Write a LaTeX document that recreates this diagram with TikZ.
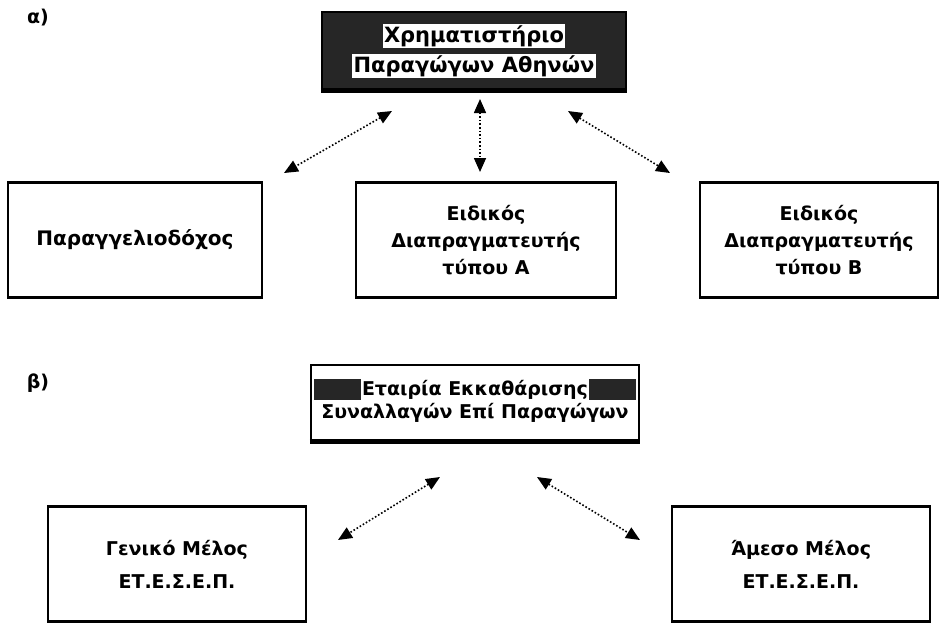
\documentclass[tikz,border=0pt]{standalone}
\usepackage{fontspec}
\setmainfont{DejaVu Sans}
\usetikzlibrary{arrows.meta}
\setlength{\fboxsep}{1.5pt}
\begin{document}
\begin{tikzpicture}[x=1pt,y=-1pt,
  font=\bfseries\fontsize{19}{27}\selectfont,
  plainbox/.style={draw=black,line width=2.2pt,minimum height=115pt,align=center,inner sep=0pt},
  headbox/.style={draw=black,line width=2.5pt,align=center,inner sep=0pt},
  shadowline/.style={line width=5pt},
  link/.style={line width=1.6pt,dotted,{Triangle[length=14pt,width=12pt]}-{Triangle[length=14pt,width=12pt]}}]
\useasboundingbox (0,0) rectangle (946,625);
% labels
\node (la) at (38,18) {α)};
\node (lb) at (38,383) {β)};
% top part
\node[headbox,fill=black!85,minimum width=304pt,minimum height=78pt,
  font=\bfseries\fontsize{21}{30}\selectfont] (xa) at (474,51)
  {\colorbox{white}{Χρηματιστήριο}\\\colorbox{white}{Παραγώγων Αθηνών}};
\draw[shadowline] ([yshift=1pt]xa.south west) -- ([yshift=1pt]xa.south east);
\node[plainbox,minimum width=254pt,font=\bfseries\fontsize{20}{27}\selectfont] (p1) at (135,240) {Παραγγελιοδόχος};
\node[plainbox,minimum width=260pt] (p2) at (486,240) {Ειδικός\\Διαπραγματευτής\\τύπου Α};
\node[plainbox,minimum width=238pt] (p3) at (819,240) {Ειδικός\\Διαπραγματευτής\\τύπου Β};
\coordinate (a1s) at (392,111);
\coordinate (a1e) at (284,173);
\coordinate (a2s) at (480,99);
\coordinate (a2e) at (480,172);
\coordinate (a3s) at (568,111);
\coordinate (a3e) at (670,173);
\draw[link] (a1s) -- (a1e);
\draw[link] (a2s) -- (a2e);
\draw[link] (a3s) -- (a3e);
% bottom part
\node[headbox,fill=white,minimum width=328pt,minimum height=76pt] (xb) at (475,403) {};
\fill[black!85] ([xshift=4pt]xb.west |- 0,379) rectangle ([xshift=-4pt]xb.east |- 0,400);
\node[font=\bfseries\fontsize{19}{22}\selectfont,align=center,inner sep=0pt] (tb) at (475,401)
  {\colorbox{white}{Εταιρία Εκκαθάρισης}\\\colorbox{white}{Συναλλαγών Επί Παραγώγων}};
\draw[shadowline] ([yshift=1pt]xb.south west) -- ([yshift=1pt]xb.south east);
\node[plainbox,minimum width=258pt,font=\bfseries\fontsize{19}{33}\selectfont] (q1) at (177,564) {Γενικό Μέλος\\ΕΤ.Ε.Σ.Ε.Π.};
\node[plainbox,minimum width=258pt,font=\bfseries\fontsize{19}{33}\selectfont] (q2) at (801,564) {Άμεσο Μέλος\\ΕΤ.Ε.Σ.Ε.Π.};
\coordinate (b1s) at (440,477);
\coordinate (b1e) at (338,540);
\coordinate (b2s) at (537,477);
\coordinate (b2e) at (640,540);
\draw[link] (b1s) -- (b1e);
\draw[link] (b2s) -- (b2e);
\end{tikzpicture}
\end{document}
